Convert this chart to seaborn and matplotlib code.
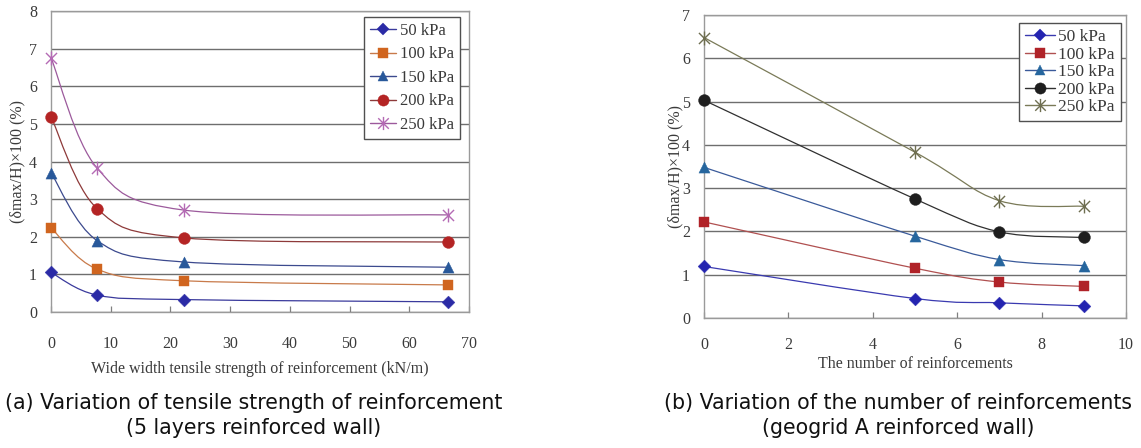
import numpy as np
import pandas as pd
import matplotlib
matplotlib.use("Agg")
import matplotlib.pyplot as plt
from matplotlib.path import Path
from matplotlib.patches import PathPatch
from matplotlib.lines import Line2D
import seaborn as sns

# ---------------- data ----------------
pressures = ["50 kPa", "100 kPa", "150 kPa", "200 kPa", "250 kPa"]

strength_x = [0, 7.7, 22.2, 66.5]
a_50 = [1.05, 0.45, 0.33, 0.27]
a_100 = [2.24, 1.14, 0.83, 0.72]
a_150 = [3.70, 1.90, 1.33, 1.19]
a_200 = [5.19, 2.75, 1.97, 1.86]
a_250 = [6.76, 3.83, 2.71, 2.58]

count_x = [0, 5, 7, 9]
b_50 = [1.19, 0.45, 0.35, 0.28]
b_100 = [2.22, 1.15, 0.83, 0.73]
b_150 = [3.48, 1.89, 1.35, 1.21]
b_200 = [5.03, 2.75, 1.99, 1.86]
b_250 = [6.48, 3.83, 2.71, 2.58]

xticks_a = [0, 10, 20, 30, 40, 50, 60, 70]
yticks_a = [0, 1, 2, 3, 4, 5, 6, 7, 8]
xticks_b = [0, 2, 4, 6, 8, 10]
yticks_b = [0, 1, 2, 3, 4, 5, 6, 7]

ylabel = "(δmax/H)×100 (%)"
xlabel_a = "Wide width tensile strength of reinforcement (kN/m)"
xlabel_b = "The number of reinforcements"
caption_a = "(a) Variation of tensile strength of reinforcement\n(5 layers reinforced wall)"
caption_b = "(b) Variation of the number of reinforcements\n(geogrid A reinforced wall)"

# ---------------- style ----------------
sns.set_style("white")
plt.rcParams["font.family"] = ["Liberation Serif", "DejaVu Serif"]

star_path = Path(
    [(0, -1), (0, 1), (-0.8, -0.8), (0.8, 0.8), (-0.8, 0.8), (0.8, -0.8)],
    [Path.MOVETO, Path.LINETO, Path.MOVETO, Path.LINETO, Path.MOVETO, Path.LINETO],
)

style_a = {
    "50 kPa": dict(marker="D", mc="#2b2ba6", lc="#3a3a9c", ms=6.5),
    "100 kPa": dict(marker="s", mc="#d0651f", lc="#c87a4a", ms=7.5),
    "150 kPa": dict(marker="^", mc="#28589a", lc="#3c4a8e", ms=8),
    "200 kPa": dict(marker="o", mc="#b42424", lc="#8e3a3a", ms=8.5),
    "250 kPa": dict(marker=star_path, mc="#b46ab4", lc="#9c5a9c", ms=10),
}
style_b = {
    "50 kPa": dict(marker="D", mc="#2424b0", lc="#3a3ab0", ms=6.5),
    "100 kPa": dict(marker="s", mc="#b02228", lc="#b05050", ms=7.5),
    "150 kPa": dict(marker="^", mc="#26669e", lc="#3a5a9a", ms=8),
    "200 kPa": dict(marker="o", mc="#1e1e1e", lc="#303030", ms=8.5),
    "250 kPa": dict(marker=star_path, mc="#6e6e50", lc="#7a7a58", ms=10),
}


def smooth_path(xs, ys, tension=1.0):
    pts = np.column_stack([xs, ys]).astype(float)
    n = len(pts)
    verts = [tuple(pts[0])]
    codes = [Path.MOVETO]
    for i in range(n - 1):
        p0 = pts[i - 1] if i > 0 else pts[i]
        p1 = pts[i]
        p2 = pts[i + 1]
        p3 = pts[i + 2] if i + 2 < n else pts[i + 1]
        c1 = p1 + (p2 - p0) / 6.0 * tension
        c2 = p2 - (p3 - p1) / 6.0 * tension
        verts += [tuple(c1), tuple(c2), tuple(p2)]
        codes += [Path.CURVE4] * 3
    return Path(verts, codes)


def draw_panel(ax, xs, series, styles, xticks, yticks, xlabel, legend_kw,
               xpad=17, xlabelpad=7, ylabelpad=3):
    rows = []
    for name, ys in zip(pressures, series):
        for x, y in zip(xs, ys):
            rows.append({"x": x, "y": y, "p": name})
    df = pd.DataFrame(rows)
    for name in pressures:
        st = styles[name]
        sub = df[df["p"] == name]
        patch = PathPatch(smooth_path(sub["x"].values, sub["y"].values),
                          facecolor="none", edgecolor=st["lc"], lw=0.9, zorder=3)
        ax.add_patch(patch)
        sns.scatterplot(data=sub, x="x", y="y", ax=ax, marker=st["marker"],
                        s=st["ms"] ** 2, color=st["mc"], edgecolor=st["mc"],
                        linewidth=1.0 if st["marker"] is star_path else 0.3,
                        zorder=4, legend=False, clip_on=False)
    ax.set_xlim(xticks[0], xticks[-1])
    ax.set_ylim(yticks[0], yticks[-1])
    ax.set_xticks(xticks)
    ax.set_yticks(yticks)
    ax.yaxis.grid(True, color="#6e6e6e", lw=1.0)
    ax.xaxis.grid(False)
    ax.set_axisbelow(True)
    for sp in ax.spines.values():
        sp.set_color("#9a9a9a")
        sp.set_linewidth(1.0)
    ax.tick_params(axis="x", direction="in", length=4, width=0.9, color="#808080",
                   pad=xpad, labelsize=11.5, labelcolor="#3a3a3a", bottom=True)
    ax.tick_params(axis="y", length=0, pad=10, labelsize=11.5, labelcolor="#3a3a3a", left=True)
    ax.set_xlabel(xlabel, fontsize=11.5, color="#3a3a3a", labelpad=xlabelpad)
    ax.set_ylabel(ylabel, fontsize=11.5, color="#3a3a3a", labelpad=ylabelpad)
    handles = [Line2D([0], [0], color=styles[n]["lc"], lw=1.0, marker=styles[n]["marker"],
                      markersize=styles[n]["ms"] * 0.95, markerfacecolor=styles[n]["mc"],
                      markeredgecolor=styles[n]["mc"],
                      markeredgewidth=1.0 if styles[n]["marker"] is star_path else 0.3)
               for n in pressures]
    leg = ax.legend(handles, pressures, loc="upper right", frameon=True, fancybox=False,
                    framealpha=1, edgecolor="#505050", handletextpad=0.2,
                    borderpad=0.35, borderaxespad=0.0, **legend_kw)
    leg.get_frame().set_linewidth(1.0)
    for t in leg.get_texts():
        t.set_color("#3a3a3a")


fig = plt.figure(figsize=(11.41, 4.48), dpi=100)
ax1 = fig.add_axes([0.0447, 0.3036, 0.3663, 0.6718])
ax2 = fig.add_axes([0.617, 0.2902, 0.3699, 0.6763])

draw_panel(ax1, strength_x, [a_50, a_100, a_150, a_200, a_250], style_a,
           xticks_a, yticks_a, xlabel_a,
           dict(fontsize=12, labelspacing=0.45, handlelength=1.6,
                bbox_to_anchor=(0.978, 0.98)))
draw_panel(ax2, count_x, [b_50, b_100, b_150, b_200, b_250], style_b,
           xticks_b, yticks_b, xlabel_b,
           dict(fontsize=12.5, labelspacing=0.08, handlelength=1.7,
                bbox_to_anchor=(0.988, 0.974)),
           xpad=14, xlabelpad=2, ylabelpad=-1)

cap_font = ["DejaVu Sans"]
fig.text(0.2225, 0.0725, caption_a, ha="center", va="center", fontsize=14.8,
         family=cap_font, color="#111111", linespacing=1.32)
fig.text(0.787, 0.0725, caption_b, ha="center", va="center", fontsize=14.8,
         family=cap_font, color="#111111", linespacing=1.32)

fig.savefig("out.png", dpi=100)
